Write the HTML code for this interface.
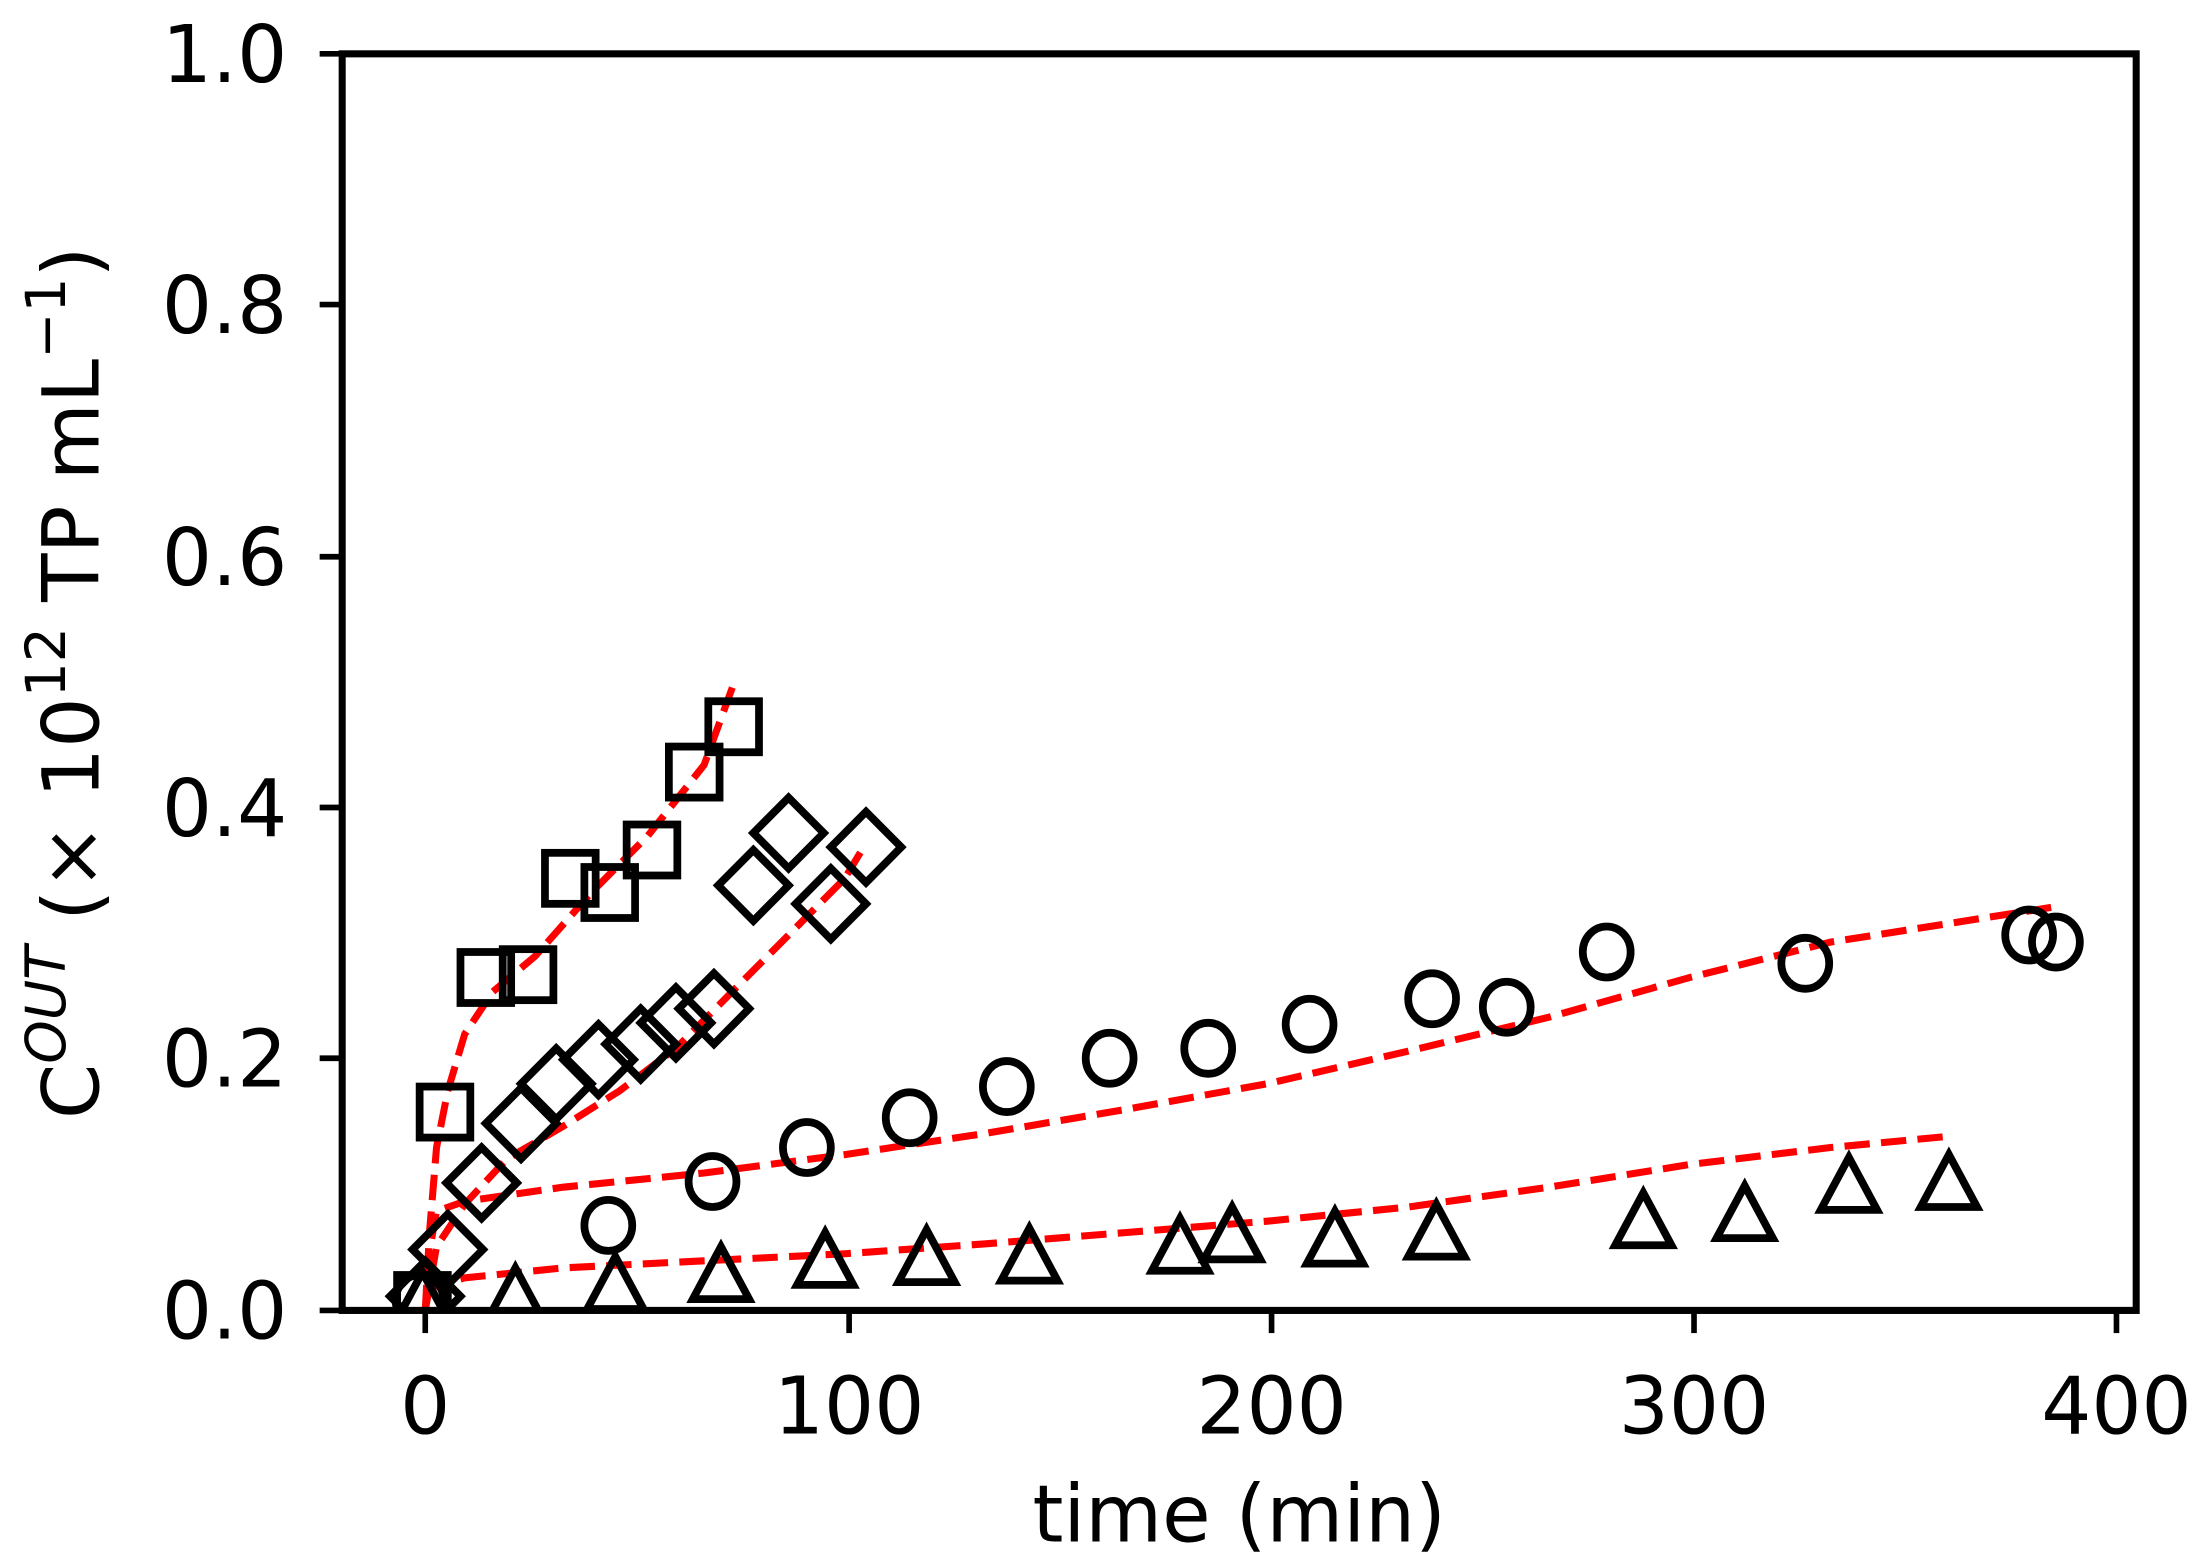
<!DOCTYPE html>
<html><head><meta charset="utf-8"><style>html,body{margin:0;padding:0;background:#fff}svg{display:block}</style></head>
<body>
<svg width="2208" height="1564" viewBox="0 0 1568 1104" preserveAspectRatio="none" xmlns="http://www.w3.org/2000/svg" font-family="'DejaVu Sans','Liberation Sans',sans-serif">
<rect width="1568" height="1104" fill="#fff"/>
<defs>
<clipPath id="c"><rect x="243" y="38" width="1274" height="887"/></clipPath>
<rect id="sq" x="-18" y="-18" width="36" height="36" fill="none" stroke="#000" stroke-width="5.5"/>
<polygon id="di" points="0,-25 25,0 0,25 -25,0" fill="none" stroke="#000" stroke-width="5.5"/>
<ellipse id="ci" rx="17" ry="18" fill="none" stroke="#000" stroke-width="5.5"/>
<polygon id="tr" points="0,-20 20,17 -20,17" fill="none" stroke="#000" stroke-width="5.5"/>
</defs>
<g clip-path="url(#c)">
<g fill="none" stroke="#ff0000" stroke-width="5" stroke-dasharray="18,8">
<polyline points="302,925 305,870 310,810 318,770 330,730 350,700 380,675 420,630 460,590 500,540 522,480"/>
<polyline points="302,925 310,880 330,850 360,818 400,795 440,770 480,740 520,700 560,660 600,620 615,595"/>
<polyline points="302,900 310,855 330,848 400,838 500,828 600,815 700,800 800,783 900,765 1000,742 1100,718 1200,690 1300,665 1460,640"/>
<polyline points="302,910 330,902 400,895 500,890 600,885 700,878 800,870 900,862 1000,852 1100,838 1200,822 1300,810 1385,802"/>
</g>
<g>
<use href="#sq" x="300" y="918"/><use href="#sq" x="316" y="785"/><use href="#sq" x="345" y="690"/><use href="#sq" x="375" y="688"/><use href="#sq" x="405" y="620"/><use href="#sq" x="433" y="630"/><use href="#sq" x="463" y="600"/><use href="#sq" x="493" y="545"/><use href="#sq" x="521" y="513"/>
<use href="#di" x="302" y="915"/><use href="#di" x="318" y="882"/><use href="#di" x="342" y="835"/><use href="#di" x="370" y="793"/><use href="#di" x="395" y="765"/><use href="#di" x="425" y="748"/><use href="#di" x="455" y="737"/><use href="#di" x="480" y="722"/><use href="#di" x="507" y="712"/><use href="#di" x="535" y="625"/><use href="#di" x="560" y="588"/><use href="#di" x="590" y="638"/><use href="#di" x="615" y="598"/>
<use href="#ci" x="298" y="918"/><use href="#ci" x="432" y="865"/><use href="#ci" x="506" y="834"/><use href="#ci" x="573" y="810"/><use href="#ci" x="646" y="789"/><use href="#ci" x="715" y="767"/><use href="#ci" x="788" y="747"/><use href="#ci" x="858" y="740"/><use href="#ci" x="930" y="723"/><use href="#ci" x="1017" y="705"/><use href="#ci" x="1070" y="711"/><use href="#ci" x="1141" y="672"/><use href="#ci" x="1282" y="680"/><use href="#ci" x="1441" y="660"/><use href="#ci" x="1460" y="665"/>
<use href="#tr" x="300" y="918"/><use href="#tr" x="366" y="915"/><use href="#tr" x="437" y="907"/><use href="#tr" x="512" y="900"/><use href="#tr" x="586" y="890"/><use href="#tr" x="658" y="888"/><use href="#tr" x="731" y="887"/><use href="#tr" x="838" y="880"/><use href="#tr" x="875" y="872"/><use href="#tr" x="948" y="875"/><use href="#tr" x="1020" y="870"/><use href="#tr" x="1167" y="862"/><use href="#tr" x="1239" y="857"/><use href="#tr" x="1313" y="837"/><use href="#tr" x="1384" y="835"/>
</g>
</g>
<rect x="243" y="38" width="1274" height="887" fill="none" stroke="#000" stroke-width="5"/>
<g stroke="#000" stroke-width="4">
<line x1="302" y1="925" x2="302" y2="941"/><line x1="603" y1="925" x2="603" y2="941"/><line x1="903" y1="925" x2="903" y2="941"/><line x1="1203" y1="925" x2="1203" y2="941"/><line x1="1503" y1="925" x2="1503" y2="941"/>
<line x1="227" y1="925" x2="243" y2="925"/><line x1="227" y1="747" x2="243" y2="747"/><line x1="227" y1="570" x2="243" y2="570"/><line x1="227" y1="393" x2="243" y2="393"/><line x1="227" y1="215" x2="243" y2="215"/><line x1="227" y1="38" x2="243" y2="38"/>
</g>
<g font-size="56" fill="#000">
<g text-anchor="middle">
<text x="302" y="1012">0</text><text x="603" y="1012">100</text><text x="903" y="1012">200</text><text x="1203" y="1012">300</text><text x="1503" y="1012">400</text>
</g>
<g text-anchor="end">
<text x="204" y="945">0.0</text><text x="204" y="767">0.2</text><text x="204" y="590">0.4</text><text x="204" y="413">0.6</text><text x="204" y="235">0.8</text><text x="204" y="58">1.0</text>
</g>
<text x="880" y="1088" text-anchor="middle">time (min)</text>
<text transform="translate(70,482) rotate(-90)" text-anchor="middle">C<tspan font-size="39" dy="-24" font-style="italic">OUT</tspan><tspan dy="24"> (× 10</tspan><tspan font-size="39" dy="-24">12</tspan><tspan dy="24"> TP mL</tspan><tspan font-size="39" dy="-24">−1</tspan><tspan dy="24">)</tspan></text>
</g>
</svg>
</body></html>
